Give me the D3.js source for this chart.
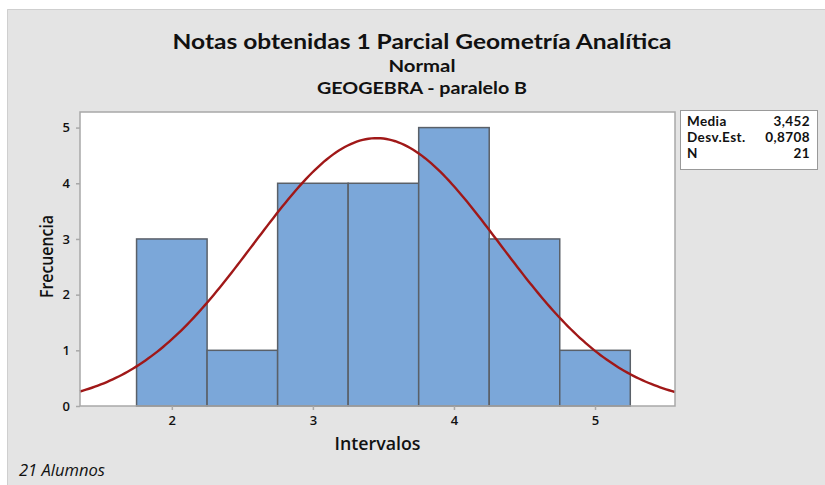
<!DOCTYPE html>
<html>
<head>
<meta charset="utf-8">
<script src="https://cdn.jsdelivr.net/npm/d3@7"></script>
<style>
  body { margin: 0; background: #fff; }
  text { font-family: "Open Sans", "Noto Sans", sans-serif; fill: #111; }
  .ttl { font-family: Lato, "Open Sans", sans-serif; font-weight: bold; }
</style>
</head>
<body>
<svg width="825" height="485"></svg>
<script>
// histogram bins (midpoints) and counts
var binMids = [2, 2.5, 3, 3.5, 4, 4.5, 5];
var counts = [3, 1, 4, 4, 5, 3, 1];
var binWidth = 0.5;
var xTicks = [2, 3, 4, 5];
var yTicks = [0, 1, 2, 3, 4, 5];
var stats = [
  {label: "Media", value: "3,452"},
  {label: "Desv.Est.", value: "0,8708"},
  {label: "N", value: "21"}
];
var mean = 3.452, sd = 0.8708, n = 21;

var width = 825, height = 485;
var margin = {left: 80, top: 112, right: 150, bottom: 79};

var svg = d3.select("svg");

// gray panel
svg.append("rect")
  .attr("x", 7).attr("y", 9)
  .attr("width", width - 7).attr("height", height - 9)
  .attr("fill", "#e4e4e4");
svg.append("path")
  .attr("d", "M7.5," + height + "V9.5H" + width)
  .attr("fill", "none").attr("stroke", "#cfcfcf");

var x = d3.scaleLinear().domain([1.349, 5.567]).range([margin.left, width - margin.right]);
var y = d3.scaleLinear().domain([0, 5.28]).range([height - margin.bottom, margin.top]);

// plot area
svg.append("rect")
  .attr("x", x.range()[0]).attr("y", y.range()[1])
  .attr("width", x.range()[1] - x.range()[0])
  .attr("height", y.range()[0] - y.range()[1])
  .attr("fill", "#fff");

// bars
svg.selectAll("rect.bar")
  .data(binMids)
  .enter()
  .append("rect")
  .attr("class", "bar")
  .attr("x", function(d) { return x(d - binWidth / 2); })
  .attr("y", function(d, i) { return y(counts[i]); })
  .attr("width", function(d) { return x(d + binWidth / 2) - x(d - binWidth / 2); })
  .attr("height", function(d, i) { return y(0) - y(counts[i]); })
  .attr("fill", "#7ba7d9")
  .attr("stroke", "#5a6068")
  .attr("stroke-width", 1.5);

// normal curve
var curvePts = d3.range(0, 201).map(function(i) {
  var v = x.domain()[0] + (x.domain()[1] - x.domain()[0]) * i / 200;
  var f = n * binWidth / (sd * Math.sqrt(2 * Math.PI)) * Math.exp(-0.5 * Math.pow((v - mean) / sd, 2));
  return [v, f];
});
svg.append("path")
  .datum(curvePts)
  .attr("fill", "none")
  .attr("stroke", "#a01818")
  .attr("stroke-width", 2.4)
  .attr("d", d3.line().x(function(d) { return x(d[0]); }).y(function(d) { return y(d[1]); }));

// frame
svg.append("rect")
  .attr("x", x.range()[0]).attr("y", y.range()[1])
  .attr("width", x.range()[1] - x.range()[0])
  .attr("height", y.range()[0] - y.range()[1])
  .attr("fill", "none").attr("stroke", "#a8a8a8").attr("stroke-width", 1.5);

var axisBottom = d3.axisBottom(x).tickValues(xTicks).tickSize(4).tickPadding(6).tickFormat(d3.format("d"));
var axisLeft = d3.axisLeft(y).tickValues(yTicks).tickSize(4).tickPadding(6).tickFormat(d3.format("d"));

var gx = svg.append("g")
  .attr("transform", "translate(0," + (height - margin.bottom) + ")")
  .call(axisBottom);
var gy = svg.append("g")
  .attr("transform", "translate(" + margin.left + ",0)")
  .call(axisLeft);
[gx, gy].forEach(function(g) {
  g.select(".domain").remove();
  g.selectAll("line").attr("stroke", "#a8a8a8").attr("stroke-width", 1.5);
  g.selectAll("text").style("font-size", "13px").style("font-weight", "600").attr("fill", "#111");
});

// titles (stretched to the reference widths)
function title(txt, yy, size, len) {
  svg.append("text").attr("class", "ttl")
    .attr("x", 422).attr("y", yy)
    .style("text-anchor", "middle").style("font-size", size + "px")
    .attr("textLength", len).attr("lengthAdjust", "spacingAndGlyphs")
    .text(txt);
}
title("Notas obtenidas 1 Parcial Geometría Analítica", 49, 21, 499);
title("Normal", 72, 17, 67);
title("GEOGEBRA - paralelo B", 93.5, 17, 210);

// axis labels
svg.append("text")
  .attr("transform", "rotate(-90)")
  .attr("x", -256.5)
  .attr("y", 53)
  .style("text-anchor", "middle")
  .style("font-size", "18.5px").style("font-weight", "600")
  .attr("textLength", 83).attr("lengthAdjust", "spacingAndGlyphs")
  .text("Frecuencia");
svg.append("text")
  .attr("x", 377.5)
  .attr("y", 450)
  .style("text-anchor", "middle")
  .style("font-size", "18.5px").style("font-weight", "600")
  .attr("textLength", 86).attr("lengthAdjust", "spacingAndGlyphs")
  .text("Intervalos");

// footnote
svg.append("text").attr("x", 19).attr("y", 476)
  .style("font-size", "15.5px").style("font-style", "italic")
  .attr("textLength", 86).attr("lengthAdjust", "spacingAndGlyphs")
  .text("21 Alumnos");

// stats box
svg.append("rect")
  .attr("x", 680.5).attr("y", 110.5).attr("width", 137).attr("height", 59)
  .attr("fill", "#fff").attr("stroke", "#999");
var sg = svg.selectAll("g.stat").data(stats).enter().append("g")
  .attr("transform", function(d, i) { return "translate(0," + (126 + i * 16) + ")"; });
sg.append("text").attr("x", 687).attr("class", "ttl").style("font-size", "13.5px").style("letter-spacing", "0.4px")
  .text(function(d) { return d.label; });
sg.append("text").attr("x", 810).attr("class", "ttl").style("text-anchor", "end").style("font-size", "13.5px").style("letter-spacing", "0.4px")
  .text(function(d) { return d.value; });
</script>
</body>
</html>
